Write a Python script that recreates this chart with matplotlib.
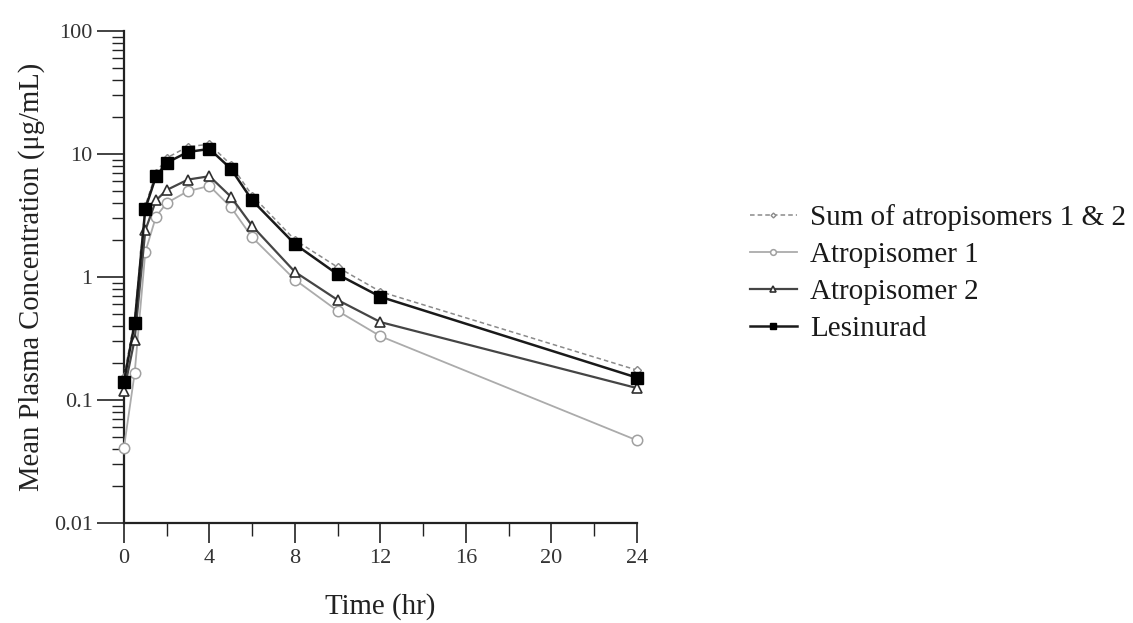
import matplotlib
matplotlib.use("Agg")
import matplotlib.pyplot as plt
from matplotlib.ticker import FixedLocator, FuncFormatter, LogLocator, NullFormatter

time_hr = [0, 0.5, 1, 1.5, 2, 3, 4, 5, 6, 8, 10, 12, 24]
sum_atrop = [0.155, 0.45, 3.8, 7.0, 9.3, 11.5, 12.0, 8.2, 4.6, 2.0, 1.2, 0.76, 0.175]
atrop1 = [0.041, 0.165, 1.6, 3.1, 4.0, 5.0, 5.5, 3.7, 2.1, 0.95, 0.53, 0.33, 0.047]
atrop2 = [0.118, 0.31, 2.4, 4.2, 5.1, 6.2, 6.6, 4.5, 2.6, 1.1, 0.65, 0.43, 0.125]
lesinurad = [0.14, 0.42, 3.6, 6.6, 8.5, 10.4, 11.0, 7.6, 4.2, 1.85, 1.05, 0.69, 0.152]

labels = ["Sum of atropisomers 1 & 2", "Atropisomer 1", "Atropisomer 2", "Lesinurad"]
x_ticks = [0, 4, 8, 12, 16, 20, 24]
y_ticks = [0.01, 0.1, 1, 10, 100]

plt.rcParams['font.family'] = ['Liberation Serif', 'DejaVu Serif']

fig = plt.figure(figsize=(11.33, 6.23), dpi=100)
ax = fig.add_axes([0.1094, 0.1605, 0.4528, 0.7897])

ax.plot(time_hr, sum_atrop, linestyle=(0, (3, 2)), color='#8a8a8a', lw=1.1,
        marker='D', markersize=4.5, markerfacecolor='white', markeredgecolor='#8a8a8a',
        markeredgewidth=1.0, label=labels[0], clip_on=False, zorder=3)
ax.plot(time_hr, atrop1, linestyle='-', color='#ababab', lw=1.3,
        marker='o', markersize=7.5, markerfacecolor='white', markeredgecolor='#a0a0a0',
        markeredgewidth=1.1, label=labels[1], clip_on=False, zorder=4)
ax.plot(time_hr, atrop2, linestyle='-', color='#454545', lw=1.6,
        marker='^', markersize=7.5, markerfacecolor='white', markeredgecolor='#303030',
        markeredgewidth=1.2, label=labels[2], clip_on=False, zorder=5)
ax.plot(time_hr, lesinurad, linestyle='-', color='#1a1a1a', lw=1.8,
        marker='s', markersize=8, markerfacecolor='black', markeredgecolor='black',
        label=labels[3], clip_on=False, zorder=6)

ax.set_yscale('log')
ax.set_xlim(0, 24)
ax.set_ylim(0.01, 100)

ax.xaxis.set_major_locator(FixedLocator(x_ticks))
ax.xaxis.set_minor_locator(FixedLocator([2, 6, 10, 14, 18, 22]))
ax.set_xticklabels([str(t) for t in x_ticks])
ax.yaxis.set_major_locator(FixedLocator(y_ticks))
ax.yaxis.set_major_formatter(FuncFormatter(lambda v, p: '{:g}'.format(v)))
ax.yaxis.set_minor_locator(LogLocator(base=10, subs=range(2, 10)))
ax.yaxis.set_minor_formatter(NullFormatter())

for s in ['top', 'right']:
    ax.spines[s].set_visible(False)
for s in ['left', 'bottom']:
    ax.spines[s].set_linewidth(1.6)
    ax.spines[s].set_color('#222222')

ax.tick_params(axis='y', which='major', direction='out', length=19.5, width=1.2,
               labelsize=16, colors='#222222', pad=3)
ax.tick_params(axis='y', which='minor', direction='out', length=9, width=1.0, colors='#222222')
ax.tick_params(axis='x', which='major', direction='out', length=14.5, width=1.2,
               labelsize=16, colors='#222222', pad=4)
ax.tick_params(axis='x', which='minor', direction='out', length=9, width=1.0, colors='#222222')
for lbl in ax.get_xticklabels() + ax.get_yticklabels():
    lbl.set_color('#333333')

ax.set_xlabel('Time (hr)', fontsize=20.8, color='#222222', labelpad=18)
ax.set_ylabel('Mean Plasma Concentration (μg/mL)', fontsize=20.6, color='#222222', labelpad=6)

leg = fig.legend(loc='center left', bbox_to_anchor=(0.662, 0.562), frameon=False,
                 fontsize=21, markerscale=0.55, handlelength=1.6, handletextpad=0.45,
                 labelspacing=0.36, borderpad=0, borderaxespad=0)
for t in leg.get_texts():
    t.set_color('#1a1a1a')

fig.savefig('out.png', dpi=100)
